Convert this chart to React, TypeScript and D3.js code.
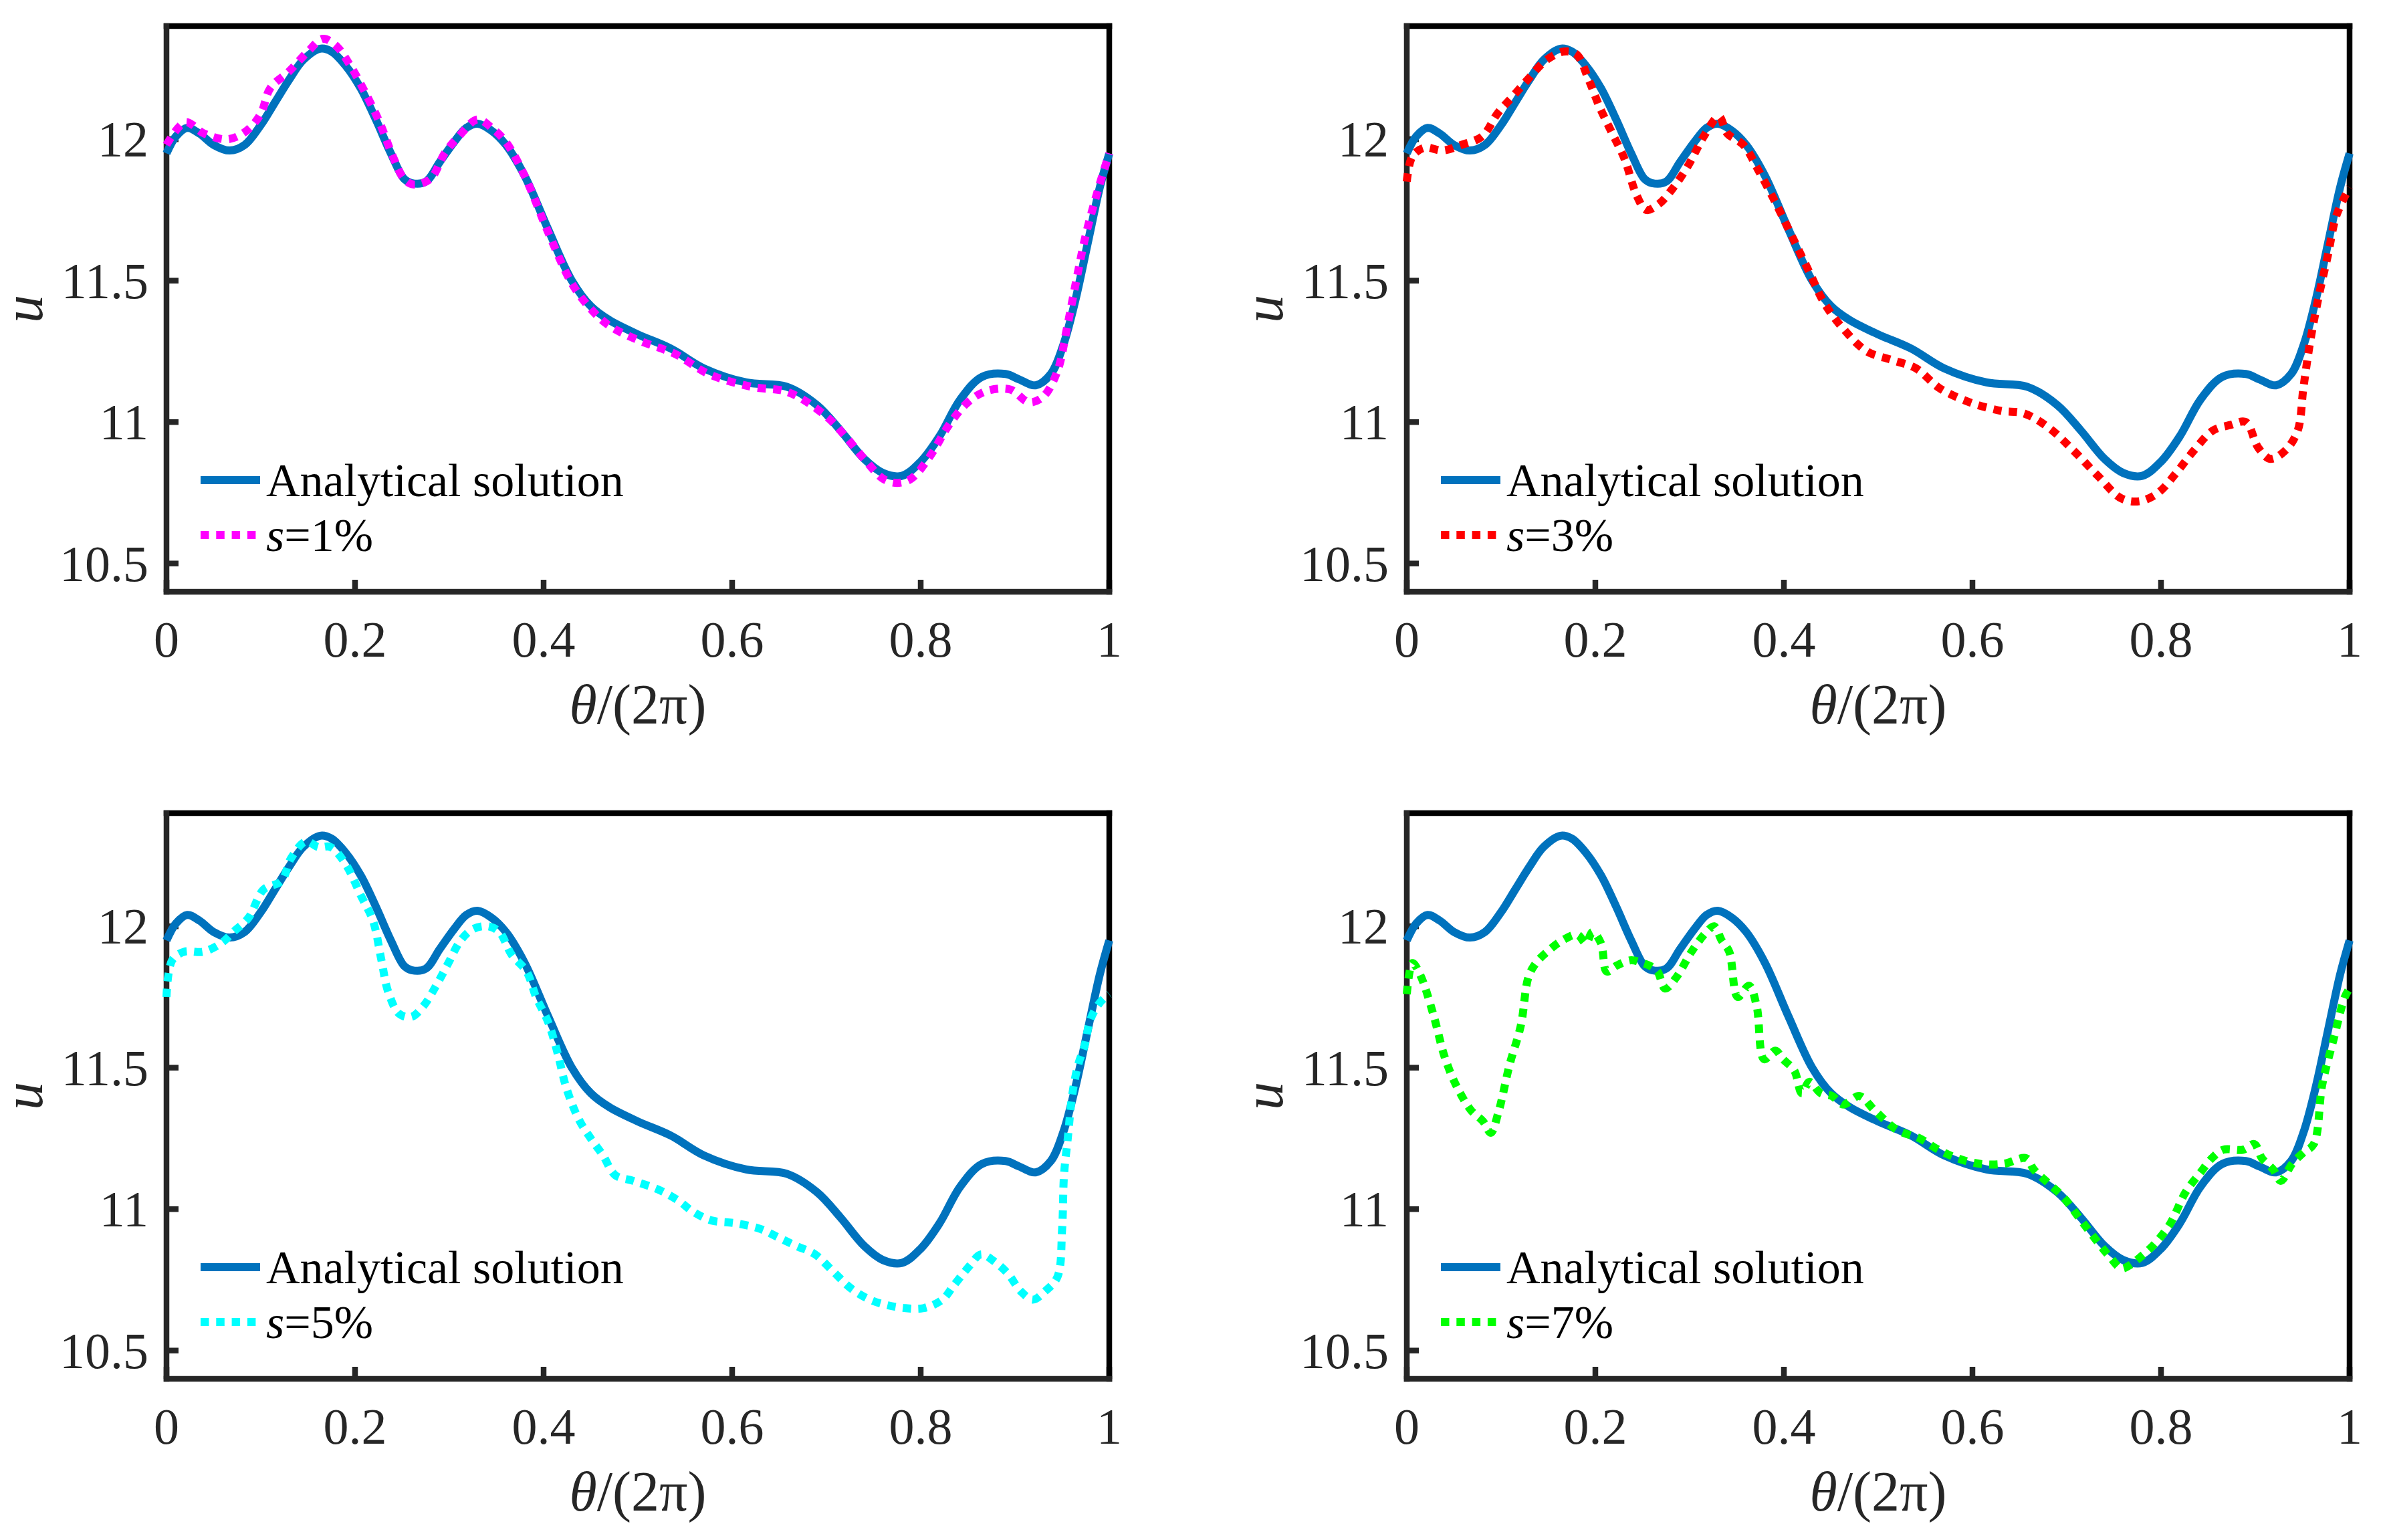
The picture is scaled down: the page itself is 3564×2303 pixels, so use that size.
import React, { useEffect } from "react";
import * as d3 from "d3";

// ---------- data ----------
const thetaAnalytic = [0, 0.01, 0.022, 0.035, 0.05, 0.067, 0.083, 0.1, 0.115, 0.13, 0.145, 0.163, 0.175, 0.19, 0.206, 0.222, 0.238, 0.252, 0.26, 0.275, 0.29, 0.305, 0.318, 0.33, 0.345, 0.36, 0.38, 0.405, 0.43, 0.45, 0.47, 0.5, 0.535, 0.57, 0.615, 0.658, 0.69, 0.715, 0.74, 0.76, 0.78, 0.8, 0.82, 0.842, 0.865, 0.89, 0.905, 0.922, 0.938, 0.951, 0.964, 0.977, 0.99, 1.0];
const uAnalytic = [11.95, 12.01, 12.04, 12.02, 11.98, 11.96, 11.98, 12.05, 12.13, 12.21, 12.28, 12.32, 12.31, 12.26, 12.18, 12.07, 11.95, 11.86, 11.845, 11.85, 11.92, 11.99, 12.04, 12.055, 12.03, 11.98, 11.87, 11.68, 11.5, 11.41, 11.36, 11.31, 11.26, 11.19, 11.14, 11.125, 11.06, 10.97, 10.87, 10.82, 10.81, 10.86, 10.95, 11.08, 11.16, 11.17, 11.15, 11.13, 11.17, 11.27, 11.43, 11.63, 11.83, 11.95];

const theta1 = [0, 0.02, 0.04, 0.065, 0.085, 0.1, 0.11, 0.13, 0.15, 0.166, 0.18, 0.195, 0.21, 0.226, 0.24, 0.252, 0.262, 0.28, 0.295, 0.31, 0.33, 0.345, 0.36, 0.38, 0.405, 0.43, 0.45, 0.47, 0.5, 0.54, 0.575, 0.62, 0.66, 0.7, 0.72, 0.74, 0.76, 0.775, 0.79, 0.81, 0.83, 0.85, 0.87, 0.895, 0.915, 0.93, 0.945, 0.955, 0.965, 0.975, 0.988, 1.0];
const u1 = [11.98, 12.06, 12.02, 12.0, 12.03, 12.09, 12.18, 12.24, 12.31, 12.355, 12.33, 12.26, 12.17, 12.06, 11.94, 11.86, 11.84, 11.86, 11.95, 12.01, 12.07, 12.04, 11.99, 11.87, 11.67, 11.49, 11.4, 11.34, 11.29, 11.24, 11.17, 11.125, 11.105, 11.02, 10.95, 10.87, 10.8, 10.785, 10.8, 10.88, 10.99, 11.07, 11.11, 11.115, 11.07, 11.09, 11.18, 11.33, 11.5, 11.66, 11.82, 11.95];

const theta3 = [0, 0.006, 0.019, 0.038, 0.058, 0.08, 0.096, 0.112, 0.128, 0.148, 0.167, 0.18, 0.193, 0.205, 0.218, 0.231, 0.244, 0.254, 0.267, 0.283, 0.299, 0.315, 0.331, 0.34, 0.357, 0.373, 0.392, 0.411, 0.427, 0.443, 0.463, 0.488, 0.514, 0.54, 0.565, 0.597, 0.63, 0.655, 0.681, 0.707, 0.733, 0.758, 0.777, 0.797, 0.816, 0.835, 0.855, 0.874, 0.89, 0.903, 0.916, 0.932, 0.945, 0.951, 0.958, 0.967, 0.977, 0.986, 1.0];
const u3 = [11.85, 11.94, 11.97, 11.96, 11.98, 12.01, 12.09, 12.15, 12.21, 12.28, 12.31, 12.3, 12.21, 12.11, 12.02, 11.93, 11.8, 11.75, 11.77, 11.83, 11.91, 12.01, 12.08, 12.02, 11.98, 11.89, 11.77, 11.64, 11.53, 11.42, 11.33, 11.25, 11.22, 11.19, 11.12, 11.07, 11.04, 11.03, 10.98, 10.9, 10.81, 10.73, 10.72, 10.75, 10.82, 10.9, 10.97, 10.99, 11.0, 10.91, 10.87, 10.9, 10.97, 11.12, 11.28, 11.44, 11.59, 11.73, 11.83];

const theta5 = [0, 0.006, 0.019, 0.039, 0.058, 0.071, 0.087, 0.103, 0.122, 0.132, 0.148, 0.161, 0.174, 0.19, 0.206, 0.219, 0.228, 0.235, 0.247, 0.26, 0.273, 0.286, 0.299, 0.312, 0.325, 0.341, 0.353, 0.366, 0.382, 0.392, 0.405, 0.415, 0.424, 0.437, 0.45, 0.463, 0.476, 0.495, 0.521, 0.543, 0.559, 0.578, 0.604, 0.63, 0.649, 0.668, 0.688, 0.707, 0.726, 0.746, 0.765, 0.784, 0.803, 0.823, 0.835, 0.852, 0.864, 0.88, 0.893, 0.906, 0.919, 0.932, 0.945, 0.95, 0.952, 0.956, 0.961, 0.967, 0.974, 0.98, 0.99, 1.0];
const u5 = [11.75, 11.88, 11.91, 11.91, 11.94, 11.98, 12.03, 12.13, 12.16, 12.24, 12.3, 12.28, 12.28, 12.22, 12.11, 12.02, 11.88, 11.77, 11.69, 11.68, 11.72, 11.79, 11.87, 11.95, 11.99, 12.0, 11.98, 11.9, 11.84, 11.75, 11.66, 11.55, 11.43, 11.32, 11.25, 11.19, 11.12, 11.1, 11.07, 11.03, 10.99, 10.96, 10.95, 10.93, 10.9, 10.87, 10.84, 10.78, 10.72, 10.68, 10.66, 10.65, 10.65, 10.68, 10.73, 10.8, 10.84, 10.81, 10.77, 10.71, 10.68, 10.71, 10.76, 10.93, 11.12, 11.25, 11.41, 11.51, 11.58, 11.67, 11.73, 11.76];

const theta7 = [0, 0.006, 0.014, 0.028, 0.04, 0.052, 0.068, 0.081, 0.089, 0.097, 0.109, 0.121, 0.129, 0.137, 0.149, 0.165, 0.181, 0.19, 0.197, 0.206, 0.212, 0.222, 0.238, 0.25, 0.258, 0.266, 0.274, 0.286, 0.302, 0.318, 0.326, 0.334, 0.342, 0.351, 0.363, 0.371, 0.379, 0.391, 0.399, 0.411, 0.419, 0.427, 0.439, 0.451, 0.463, 0.48, 0.496, 0.52, 0.544, 0.564, 0.584, 0.608, 0.633, 0.657, 0.665, 0.681, 0.697, 0.713, 0.729, 0.746, 0.758, 0.766, 0.778, 0.794, 0.81, 0.826, 0.842, 0.854, 0.866, 0.887, 0.899, 0.907, 0.919, 0.927, 0.939, 0.951, 0.962, 0.971, 0.983, 0.995, 1.0];
const u7 = [11.76, 11.87, 11.83, 11.69, 11.54, 11.44, 11.35, 11.31, 11.27, 11.34, 11.51, 11.65, 11.82, 11.87, 11.91, 11.95, 11.97, 11.94, 11.98, 11.94, 11.84, 11.86, 11.88, 11.87, 11.86, 11.84, 11.78, 11.82, 11.91, 11.98, 12.0, 11.95, 11.91, 11.75, 11.79, 11.72, 11.53, 11.56, 11.53, 11.49, 11.41, 11.45, 11.41, 11.4, 11.37, 11.4, 11.35, 11.28, 11.25, 11.21, 11.18, 11.16, 11.16, 11.18, 11.14, 11.09, 11.04, 10.97, 10.9, 10.83, 10.79, 10.8, 10.83, 10.88, 10.95, 11.06, 11.13, 11.18, 11.21, 11.21, 11.23, 11.18, 11.14, 11.1, 11.16, 11.2, 11.23, 11.44, 11.6, 11.75, 11.78];

const noisyTheta = [theta1, theta3, theta5, theta7];
const noisyU = [u1, u3, u5, u7];
const noiseLabels = ["1%", "3%", "5%", "7%"];
const noiseColors = ["#FF00FF", "#FF0000", "#00FFFF", "#00FF00"];
const analyticLabel = "Analytical solution";

const xTicks = [0, 0.2, 0.4, 0.6, 0.8, 1];
const xTickLabels = ["0", "0.2", "0.4", "0.6", "0.8", "1"];
const yTicks = [10.5, 11, 11.5, 12];
const yTickLabels = ["10.5", "11", "11.5", "12"];
const xDomain: [number, number] = [0, 1];
const yDomain: [number, number] = [10.4, 12.4];

// ---------- layout ----------
const W = 3564;
const H = 2303;
const PW = 1410;
const PH = 846;
const panelPos = [
  { left: 249, top: 39 },
  { left: 2104, top: 39 },
  { left: 249, top: 1216 },
  { left: 2104, top: 1216 },
];
const FONT = "Liberation Serif";
const AX = "#262626";
const BLUE = "#0072BD";

function Panel({ idx }: { idx: number }) {
  const { left, top } = panelPos[idx];
  const x = d3.scaleLinear().domain(xDomain).range([left, left + PW]);
  const y = d3.scaleLinear().domain(yDomain).range([top + PH, top]);
  const line = d3
    .line<[number, number]>()
    .x((d) => x(d[0]))
    .y((d) => y(d[1]))
    .curve(d3.curveCatmullRom.alpha(0.5));
  const aData = thetaAnalytic.map((t, i) => [t, uAnalytic[i]] as [number, number]);
  const nData = noisyTheta[idx].map((t, i) => [t, noisyU[idx][i]] as [number, number]);
  const bottom = top + PH;
  const right = left + PW;
  const lw = 8.5;
  return (
    <g>
      {xTicks.map((t, i) => (
        <g key={"xt" + i}>
          <line x1={x(t)} x2={x(t)} y1={bottom} y2={bottom - 18} stroke={AX} strokeWidth={lw} />
          <text x={x(t)} y={bottom + 97} textAnchor="middle" fontSize={76} fill={AX} style={{ fontFamily: FONT }}>
            {xTickLabels[i]}
          </text>
        </g>
      ))}
      {yTicks.map((t, i) => (
        <g key={"yt" + i}>
          <line x1={left} x2={left + 18} y1={y(t)} y2={y(t)} stroke={AX} strokeWidth={lw} />
          <text x={left - 27} y={y(t)} dy={26} textAnchor="end" fontSize={76} fill={AX} style={{ fontFamily: FONT }}>
            {yTickLabels[i]}
          </text>
        </g>
      ))}
      <line x1={left} x2={right} y1={top} y2={top} stroke="#000" strokeWidth={lw} strokeLinecap="square" />
      <line x1={right} x2={right} y1={top} y2={bottom} stroke="#000" strokeWidth={lw} strokeLinecap="square" />
      <line x1={left} x2={right} y1={bottom} y2={bottom} stroke={AX} strokeWidth={lw} strokeLinecap="square" />
      <line x1={left} x2={left} y1={top} y2={bottom} stroke={AX} strokeWidth={lw} strokeLinecap="square" />
      <path d={line(aData) || ""} fill="none" stroke={BLUE} strokeWidth={12} strokeLinejoin="round" />
      <path d={line(nData) || ""} fill="none" stroke={noiseColors[idx]} strokeWidth={12} strokeDasharray="12.5 10.8" />
      <text x={left + PW / 2} y={bottom + 197} textAnchor="middle" fontSize={84} fill={AX} style={{ fontFamily: FONT }}>
        <tspan fontStyle="italic">θ</tspan>
        <tspan>/(2π)</tspan>
      </text>
      <text
        transform={`translate(${left - 186},${top + PH / 2}) rotate(-90)`}
        textAnchor="middle"
        fontSize={84}
        fontStyle="italic"
        fill={AX}
        style={{ fontFamily: FONT }}
      >
        u
      </text>
      <line x1={left + 51} x2={left + 140} y1={top + 679} y2={top + 679} stroke={BLUE} strokeWidth={12} />
      <text x={left + 149} y={top + 703} fontSize={70} fill="#000" style={{ fontFamily: FONT }}>
        {analyticLabel}
      </text>
      <line x1={left + 51} x2={left + 140} y1={top + 761} y2={top + 761} stroke={noiseColors[idx]} strokeWidth={12} strokeDasharray="12.5 10.8" />
      <text x={left + 149} y={top + 785} fontSize={70} fill="#000" style={{ fontFamily: FONT }}>
        <tspan fontStyle="italic">s</tspan>
        <tspan>={noiseLabels[idx]}</tspan>
      </text>
    </g>
  );
}

export default function App() {
  useEffect(() => {
    document.body.style.margin = "0";
  }, []);
  return (
    <svg width={W} height={H} viewBox={`0 0 ${W} ${H}`} style={{ position: "absolute", left: 0, top: 0, background: "#fff" }}>
      <rect x={0} y={0} width={W} height={H} fill="#fff" />
      {[0, 1, 2, 3].map((i) => (
        <Panel key={i} idx={i} />
      ))}
    </svg>
  );
}
